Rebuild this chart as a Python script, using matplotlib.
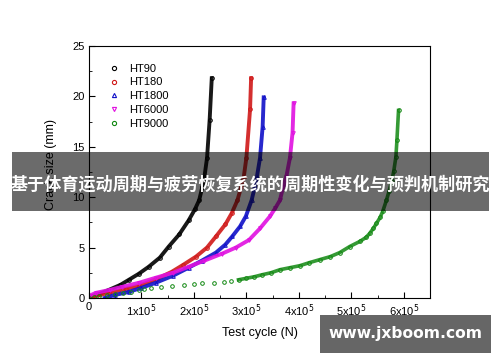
import matplotlib
matplotlib.use('Agg')
import matplotlib.pyplot as plt
from matplotlib.patches import Rectangle
from matplotlib.ticker import MultipleLocator, FuncFormatter

# values (cycles in units of 1e5, crack size mm)
ht90_x = [0.0, 0.2, 0.38, 0.6, 0.76, 0.95, 1.14, 1.35, 1.52, 1.72, 1.9, 2.02, 2.1, 2.16, 2.2, 2.25, 2.3, 2.34]
ht90_y = [0.1, 0.4, 0.8, 1.3, 1.8, 2.4, 3.1, 4.0, 5.1, 6.3, 7.7, 8.8, 9.7, 11.0, 12.0, 13.9, 17.7, 21.8]

ht180_x = [0.05, 0.38, 0.7, 0.95, 1.3, 1.58, 1.8, 2.04, 2.25, 2.42, 2.6, 2.72, 2.83, 2.9, 2.95, 3.0, 3.07, 3.09]
ht180_y = [0.1, 0.5, 0.9, 1.2, 1.9, 2.6, 3.3, 4.1, 5.0, 6.1, 7.3, 8.4, 9.7, 11.0, 12.0, 13.9, 18.7, 21.8]

ht1800_x = [0.3, 0.5, 0.76, 1.0, 1.27, 1.6, 1.9, 2.15, 2.42, 2.6, 2.73, 2.88, 2.99, 3.1, 3.16, 3.2, 3.26, 3.31, 3.33]
ht1800_y = [0.0, 0.3, 0.6, 1.0, 1.5, 2.2, 3.0, 3.7, 4.5, 5.3, 6.1, 7.1, 8.1, 9.7, 11.0, 12.0, 13.9, 17.0, 19.9]

ht6000_x = [0.0, 0.13, 0.4, 0.63, 0.95, 1.27, 1.6, 1.9, 2.2, 2.54, 2.8, 3.05, 3.26, 3.45, 3.55, 3.64, 3.7, 3.76, 3.83, 3.88, 3.9]
ht6000_y = [0.2, 0.5, 0.8, 1.1, 1.5, 2.0, 2.5, 3.1, 3.7, 4.4, 5.0, 5.75, 6.9, 8.1, 8.9, 9.7, 11.0, 12.0, 13.9, 16.4, 19.3]

ht9000_x = [0.0, 0.1, 0.2, 0.35, 0.5, 0.65, 0.8, 0.95, 1.05, 1.18, 1.37, 1.58, 1.81, 2.0, 2.16, 2.38, 2.57, 2.7, 2.85,
            3.0, 3.15, 3.3, 3.47, 3.64, 3.83, 4.02, 4.2, 4.4, 4.6, 4.78, 4.97, 5.16, 5.28, 5.35, 5.42, 5.48, 5.55,
            5.6, 5.67, 5.72, 5.77, 5.81, 5.85, 5.87, 5.9]
ht9000_y = [0.0, 0.1, 0.2, 0.3, 0.4, 0.5, 0.6, 0.75, 0.85, 1.0, 1.1, 1.2, 1.3, 1.4, 1.45, 1.5, 1.6, 1.7, 1.8,
            1.95, 2.1, 2.3, 2.5, 2.8, 3.0, 3.2, 3.5, 3.8, 4.1, 4.5, 5.1, 5.6, 6.0, 6.4, 6.9, 7.4, 8.0,
            8.6, 9.7, 10.6, 11.6, 12.6, 14.0, 15.7, 18.6]

series = [
    ('HT90', ht90_x, ht90_y, '#000000', 'o'),
    ('HT180', ht180_x, ht180_y, '#d01818', 'o'),
    ('HT1800', ht1800_x, ht1800_y, '#1010c8', '^'),
    ('HT6000', ht6000_x, ht6000_y, '#e010e0', 'v'),
    ('HT9000', ht9000_x, ht9000_y, '#118811', 'o'),
]

title_cn = '基于体育运动周期与疲劳恢复系统的周期性变化与预判机制研究'
watermark = 'www.jxboom.com'

plt.rcParams['font.family'] = ['Liberation Sans', 'DejaVu Sans']

fig = plt.figure(figsize=(5, 3.62), dpi=100)
ax = fig.add_axes([0.178, 0.177, 0.682, 0.696])

for name, xs, ys, col, mk in series:
    xv = [v * 1e5 for v in xs]
    if name == 'HT9000':
        # lower part of this run is sparse points only
        dense = [i for i, v in enumerate(xs) if v >= 2.85]
        ax.plot([xv[i] for i in dense], [ys[i] for i in dense], '-', color=col, lw=2.6, alpha=0.85)
    else:
        ax.plot(xv, ys, '-', color=col, lw=2.8, alpha=0.9)
    ax.plot(xv, ys, ls='none', marker=mk, ms=2.6, mfc='none', mec=col, mew=0.7)

handles = [plt.Line2D([], [], ls='none', marker=mk, ms=3, mfc='none', mec=col, mew=0.8)
           for name, xs, ys, col, mk in series]
ax.legend(handles, [s[0] for s in series], loc='upper left', bbox_to_anchor=(0.02, 0.97),
          frameon=False, fontsize=8, handletextpad=0.6, labelspacing=0.35, handlelength=1.5)

ax.set_xlim(0, 6.5e5)
ax.set_ylim(0, 25)
ax.xaxis.set_major_locator(MultipleLocator(1e5))
ax.xaxis.set_minor_locator(MultipleLocator(0.5e5))
ax.yaxis.set_major_locator(MultipleLocator(5))
ax.yaxis.set_minor_locator(MultipleLocator(2.5))


def xfmt(v, pos):
    n = int(round(v / 1e5))
    return '0' if n == 0 else '%dx10$^5$' % n


ax.xaxis.set_major_formatter(FuncFormatter(xfmt))
ax.tick_params(which='both', direction='in', labelsize=8, pad=3)
ax.tick_params(which='major', length=4)
ax.tick_params(which='minor', length=2.5)
ax.set_xlabel('Test cycle (N)', fontsize=9, labelpad=6)
ax.set_ylabel('Crack size (mm)', fontsize=9)
ax.yaxis.set_label_coords(-0.095, 0.53)

# overlay banner and watermark
fig.patches.append(Rectangle((0.024, 0.417), 0.954, 0.163, transform=fig.transFigure,
                             facecolor='black', alpha=0.58, edgecolor='none', zorder=5))
fig.text(0.501, 0.49, title_cn, ha='center', va='center', color='white', fontsize=12.3,
         fontweight='bold', family=['Noto Sans CJK SC', 'DejaVu Sans'], zorder=6)
fig.patches.append(Rectangle((0.64, 0.025), 0.342, 0.105, transform=fig.transFigure,
                             facecolor='#666666', edgecolor='none', zorder=5))
fig.text(0.811, 0.078, watermark, ha='center', va='center', color='white', fontsize=11.2,
         fontweight='bold', family='DejaVu Sans', zorder=6)

fig.savefig('out.png', dpi=100)
